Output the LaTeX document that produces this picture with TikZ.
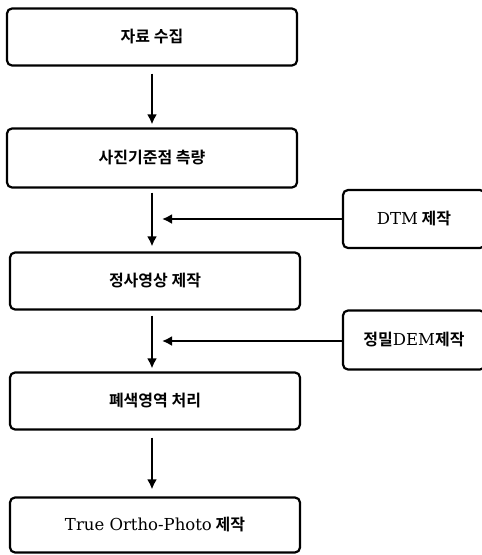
\documentclass[tikz,border=0pt]{standalone}
\usepackage{fontspec}
\setmainfont{DejaVu Serif}
\newfontfamily\kr{Noto Sans CJK KR}[BoldFont={Noto Sans CJK KR Bold}]
\newcommand\lat[1]{{\rmfamily\mdseries\fontsize{16.5}{19}\selectfont #1}}
\usetikzlibrary{arrows.meta,calc}

\tikzset{stepbox/.style={draw, line width=2.2pt, rounded corners=5pt,
    minimum width=290pt, minimum height=57pt, inner sep=0pt,
    font=\kr\bfseries\fontsize{16}{18}\selectfont}}
\tikzset{sidebox/.style={stepbox, minimum width=142pt, minimum height=58pt}}
\tikzset{flow/.style={line width=2.8pt, -{Latex[length=10pt,width=10pt]}}}

\begin{document}
\begin{tikzpicture}[x=1pt,y=-1pt] %% pixel coordinates, y down

\path[use as bounding box] (0,0) rectangle (482,555);

\node [stepbox] (collect) at (152,37) {자료 수집};
\node [stepbox, minimum height=59pt] (control) at (152,158) {사진기준점 측량};
\node [stepbox] (ortho) at (155,281) {정사영상 제작};
\node [stepbox] (occl) at (155,401) {폐색영역 처리};
\node [stepbox, minimum height=55pt] (trueortho) at (155,525)
  {\lat{True Ortho-Photo} 제작};

\node [sidebox] (dtm) at (414,219) {\lat{DTM} 제작};
\node [sidebox, minimum height=59pt] (dem) at (414,340)
  {정밀\lat{DEM}제작};

\coordinate (join_dtm) at (152,219);
\coordinate (join_dem) at (152,341);

%% main chain
\draw[flow, shorten <=7pt, shorten >=3pt] (collect.south -| join_dtm) -- (control.north -| join_dtm);
\draw[flow, shorten <=4pt, shorten >=5pt] (control.south -| join_dtm) -- (ortho.north -| join_dtm);
\draw[flow, shorten <=5pt, shorten >=3pt] (ortho.south -| join_dtm) -- (occl.north -| join_dtm);
\draw[flow, shorten <=7pt, shorten >=7pt] (occl.south -| join_dtm) -- (trueortho.north -| join_dtm);

%% side inputs
\draw[flow, shorten >=10pt] (dtm.west) -- (join_dtm);
\draw[flow, shorten >=10pt] (dem.west |- join_dem) -- (join_dem);

\end{tikzpicture}
\end{document}
